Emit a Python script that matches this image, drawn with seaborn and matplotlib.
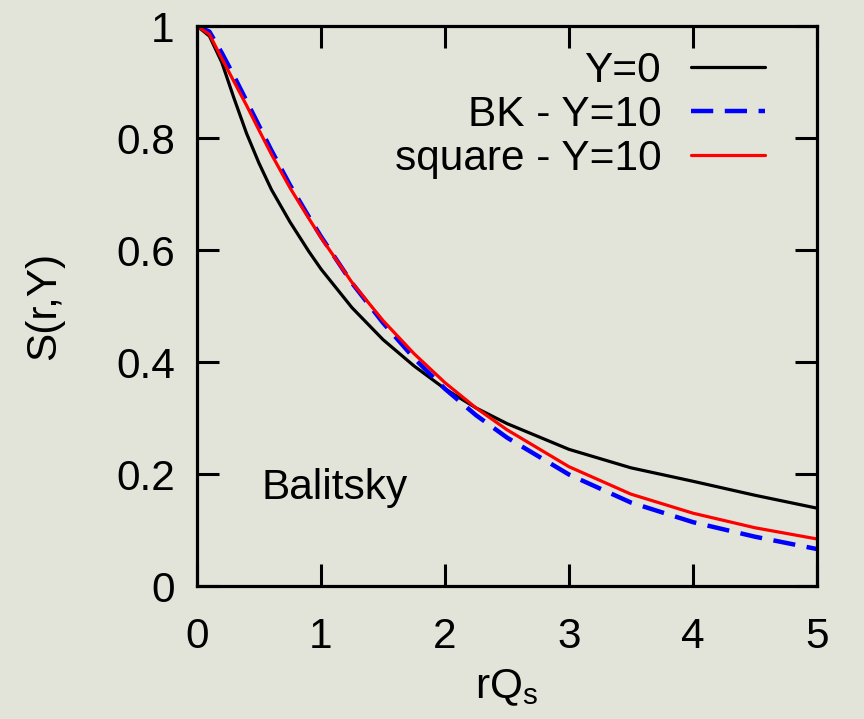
import numpy as np
import pandas as pd
import matplotlib
matplotlib.use("Agg")
import matplotlib.pyplot as plt
import seaborn as sns

# ---- data ----
r_black = [0, 0.1, 0.2, 0.3, 0.4, 0.5, 0.6, 0.75, 0.9, 1.0, 1.25, 1.5, 1.75, 2.0, 2.25, 2.5, 3.0, 3.5, 4.0, 4.5, 5.0]
s_black = [1.0, 0.982, 0.935, 0.87, 0.808, 0.755, 0.708, 0.65, 0.598, 0.566, 0.497, 0.44, 0.393, 0.352, 0.318, 0.29, 0.244, 0.211, 0.187, 0.162, 0.139]

r_bk = [0, 0.1, 0.2, 0.3, 0.4, 0.5, 0.6, 0.75, 0.9, 1.0, 1.25, 1.5, 1.75, 2.0, 2.25, 2.5, 3.0, 3.5, 4.0, 4.5, 5.0]
s_bk = [1.0, 0.99, 0.952, 0.91, 0.866, 0.822, 0.778, 0.716, 0.66, 0.624, 0.541, 0.47, 0.407, 0.352, 0.305, 0.265, 0.199, 0.149, 0.114, 0.088, 0.066]

r_sq = [0, 0.1, 0.2, 0.3, 0.4, 0.5, 0.6, 0.75, 0.9, 1.0, 1.25, 1.5, 1.75, 2.0, 2.25, 2.5, 3.0, 3.5, 4.0, 4.5, 5.0]
s_sq = [1.0, 0.985, 0.942, 0.9, 0.858, 0.814, 0.771, 0.711, 0.657, 0.622, 0.542, 0.474, 0.415, 0.363, 0.318, 0.279, 0.213, 0.164, 0.130, 0.104, 0.084]

labels = ["Y=0", "BK - Y=10", "square - Y=10"]
xticks = [0, 1, 2, 3, 4, 5]
xtick_labels = ["0", "1", "2", "3", "4", "5"]
yticks = [0, 0.2, 0.4, 0.6, 0.8, 1.0]
ytick_labels = ["0", "0.2", "0.4", "0.6", "0.8", "1"]

df = pd.concat([
    pd.DataFrame({"r": r_black, "S": s_black, "curve": labels[0]}),
    pd.DataFrame({"r": r_bk, "S": s_bk, "curve": labels[1]}),
    pd.DataFrame({"r": r_sq, "S": s_sq, "curve": labels[2]}),
])

bg = "#e3e4d9"
FS = 30.5
sns.set_style("ticks")
plt.rcParams["font.family"] = ["Liberation Sans", "DejaVu Sans"]
plt.rcParams["mathtext.default"] = "regular"
plt.rcParams["text.color"] = "black"
plt.rcParams["axes.labelcolor"] = "black"
plt.rcParams["xtick.color"] = "black"
plt.rcParams["ytick.color"] = "black"

fig = plt.figure(figsize=(8.64, 7.19), dpi=100, facecolor=bg)
ax = fig.add_axes([197/864, 1-586/719, 620/864, 560/719])
ax.set_facecolor(bg)

palette = {labels[0]: "black", labels[1]: "#0000ff", labels[2]: "#ff0000"}
sizes = {labels[0]: 2.3, labels[1]: 3.2, labels[2]: 2.3}
dashes = {labels[0]: "", labels[1]: (5, 2.6), labels[2]: ""}
sns.lineplot(data=df, x="r", y="S", hue="curve", style="curve", size="curve",
             palette=palette, sizes=sizes, dashes=dashes, hue_order=labels,
             style_order=labels, size_order=labels, ax=ax, sort=False,
             estimator=None)

ax.set_xlim(0, 5)
ax.set_ylim(0, 1)
ax.set_xticks(xticks)
ax.set_xticklabels(xtick_labels)
ax.set_yticks(yticks)
ax.set_yticklabels(ytick_labels)
for sp in ax.spines.values():
    sp.set_visible(True)
    sp.set_linewidth(2.3)
    sp.set_color("black")
ax.tick_params(axis="both", direction="in", length=16, width=2.2,
               top=True, right=True, labelsize=FS, colors="black")
ax.tick_params(axis="x", pad=22)
ax.tick_params(axis="y", pad=16)

ax.set_xlabel("rQ$_\\mathregular{s}$", fontsize=FS, labelpad=8)
ax.set_ylabel("S(r,Y)", fontsize=FS, labelpad=37)

ax.text(0.52, 0.175, "Balitsky", fontsize=FS, va="center", ha="left")

handles, labs = ax.get_legend_handles_labels()
leg = ax.legend(handles, labs, loc="upper right", bbox_to_anchor=(0.916, 0.956),
                frameon=False, markerfirst=False, fontsize=FS, handlelength=1.75,
                handletextpad=0.7, labelspacing=0.1, borderaxespad=0, borderpad=0)

fig.savefig("out.png", dpi=100, facecolor=bg)
